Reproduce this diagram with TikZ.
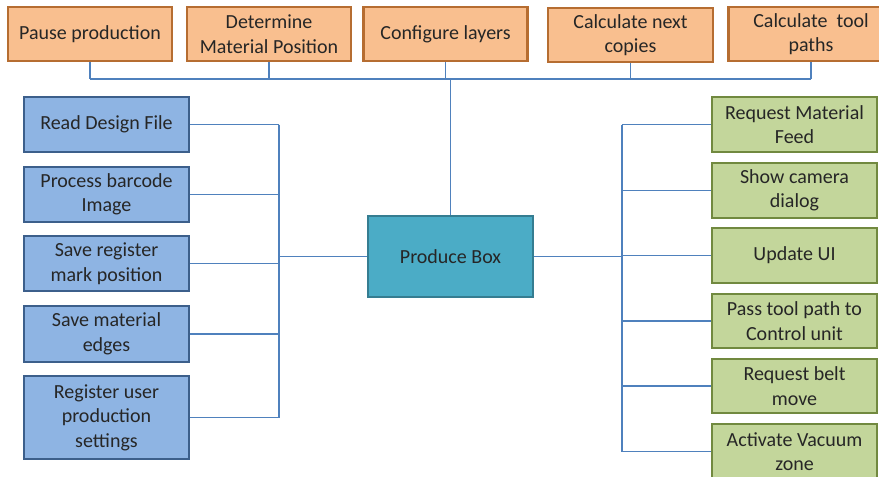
\documentclass[tikz,border=0pt]{standalone}
\usepackage{fontspec}
\setmainfont{Carlito}
\definecolor{orfill}{HTML}{F9BF8F}
\definecolor{ordraw}{HTML}{B66D31}
\definecolor{blfill}{HTML}{8EB4E3}
\definecolor{bldraw}{HTML}{3C5F8B}
\definecolor{grfill}{HTML}{C3D69B}
\definecolor{grdraw}{HTML}{71893F}
\definecolor{tlfill}{HTML}{4BACC6}
\definecolor{tldraw}{HTML}{357D91}
\definecolor{linkblue}{HTML}{4F81BD}
\definecolor{txt}{HTML}{262626}
\tikzset{
  box/.style={rectangle, line width=2.6pt, minimum width=165pt, minimum height=55pt,
    inner sep=2pt, align=center, text=txt, font=\fontsize{20}{24.5}\selectfont},
  orbox/.style={box, fill=orfill, draw=ordraw},
  blbox/.style={box, fill=blfill, draw=bldraw},
  grbox/.style={box, fill=grfill, draw=grdraw},
  tlbox/.style={box, fill=tlfill, draw=tldraw, minimum height=81pt},
  conn/.style={draw=linkblue, line width=1.2pt},
}
\begin{document}
\begin{tikzpicture}[x=1pt, y=-1pt]
\useasboundingbox (0,0) rectangle (879,477);

% central task
\node[tlbox] (prod) at (450.5,256.5) {Produce Box};

% top row
\node[orbox, minimum width=164pt, minimum height=54pt] (pause) at (90,34) {Pause production};
\node[orbox, minimum width=164pt, minimum height=54pt] (determ) at (269,34) {Determine\\Material Position};
\node[orbox, minimum width=164pt, minimum height=54pt] (config) at (445.5,34) {Configure layers};
\node[orbox, minimum height=54pt] (copies) at (630.5,35) {Calculate next\\copies};
\node[orbox, minimum height=54pt] (tools) at (811,34) {Calculate\ \ tool\\paths};

% left column
\node[blbox] (read) at (106.5,124.5) {Read Design File};
\node[blbox] (barcode) at (106.5,194.5) {Process barcode\\Image};
\node[blbox] (regmark) at (106.5,263.5) {Save register\\mark position};
\node[blbox, minimum height=56pt] (edges) at (106.5,334) {Save material\\edges};
\node[blbox, minimum height=83pt] (settings) at (106.5,417.5) {Register user\\production\\settings};

% right column
\node[grbox] (feed) at (794.5,124.5) {Request Material\\Feed};
\node[grbox] (camera) at (794.5,190.5) {Show camera\\dialog};
\node[grbox] (ui) at (794.5,255.5) {Update UI};
\node[grbox, minimum height=54pt] (toolpath) at (794.5,321) {Pass tool path to\\Control unit};
\node[grbox, minimum height=54pt] (belt) at (794.5,386) {Request belt\\move};
\node[grbox] (vacuum) at (794.5,451.5) {Activate Vacuum\\zone};

% bus positions
\coordinate (tb) at (0,79);
\coordinate (lb) at (279,0);
\coordinate (rb) at (622,0);

% top tree
\foreach \n in {pause,determ,config,copies,tools}
  \draw[conn] (\n.south) -- (\n.south |- tb);
\draw[conn] (pause.south |- tb) -- (tools.south |- tb);
\draw[conn] (prod.north) -- (prod.north |- tb);

% left tree
\foreach \n in {read,barcode,regmark,edges,settings}
  \draw[conn] (\n.east) -- (\n.east -| lb);
\draw[conn] (read.east -| lb) -- (settings.east -| lb);
\draw[conn] (prod.west) -- (prod.west -| lb);

% right tree
\foreach \n in {feed,camera,ui,toolpath,belt,vacuum}
  \draw[conn] (\n.west) -- (\n.west -| rb);
\draw[conn] (feed.west -| rb) -- (vacuum.west -| rb);
\draw[conn] (prod.east) -- (prod.east -| rb);
\end{tikzpicture}
\end{document}
